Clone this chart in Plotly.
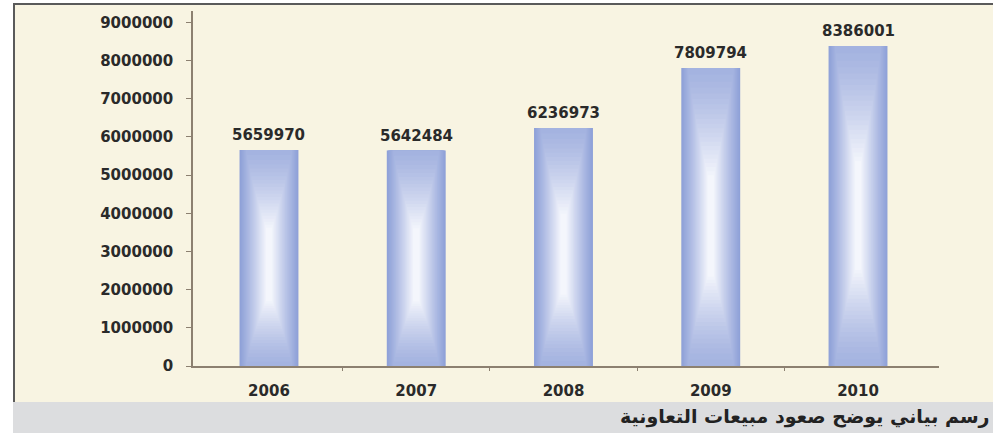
import plotly.graph_objects as go

years = ["2006", "2007", "2008", "2009", "2010"]
sales = [5659970, 5642484, 6236973, 7809794, 8386001]
y_ticks = [0, 1000000, 2000000, 3000000, 4000000, 5000000, 6000000, 7000000, 8000000, 9000000]
caption = "رسم بياني يوضح صعود مبيعات التعاونية"

W, H = 993, 433
ML, MR, MT, MB = 193, 54, 11, 67
plot_w = W - ML - MR
plot_h = H - MT - MB
axis_px = H - MB  # y pixel of zero line


def px_x(px):
    return (px - ML) / plot_w


def px_y(py):
    return (axis_px - py) / plot_h


def hex2rgb(h):
    h = h.lstrip("#")
    return [int(h[i:i + 2], 16) for i in (0, 2, 4)]


EDGE = hex2rgb("#8fa1d8")
CENTER = hex2rgb("#f4f6fc")

fig = go.Figure()

# gradient bars drawn as layered overlays (outer blue -> inner white glow)
N = 30
for k in range(N):
    t = k / (N - 1)
    w = 0.40 * (1 - 0.9 * t)
    m = t ** 1.1
    col = "rgb(%d,%d,%d)" % tuple(round(EDGE[i] + (CENTER[i] - EDGE[i]) * m) for i in range(3))
    s = max(0.0, (t - 0.25) / 0.75)
    half = 0.5 - 0.33 * s ** 0.8
    mid = 0.5 - 0.03 * s
    lo = max(0.0, mid - half)
    hi = min(1.0, mid + half)
    fig.add_trace(go.Bar(
        x=list(range(len(years))),
        y=[v * (hi - lo) for v in sales],
        base=[v * lo for v in sales],
        width=w,
        marker=dict(color=col, line=dict(width=0)),
        hoverinfo="skip",
        showlegend=False,
    ))

for i, v in enumerate(sales):
    fig.add_annotation(
        x=i, y=v, text=str(v), showarrow=False, yshift=15,
        font=dict(family="DejaVu Sans", size=15, color="#2a2a2a", weight="bold"),
    )

shapes = [
    dict(type="rect", xref="paper", yref="paper",
         x0=px_x(13), x1=px_x(993), y0=px_y(402), y1=px_y(3),
         fillcolor="#f8f4e2", line=dict(width=0), layer="below"),
    dict(type="rect", xref="paper", yref="paper",
         x0=px_x(13), x1=px_x(993), y0=px_y(433), y1=px_y(402),
         fillcolor="#dcdddf", line=dict(width=0), layer="below"),
    dict(type="line", xref="paper", yref="paper",
         x0=px_x(14), x1=px_x(14), y0=px_y(402), y1=px_y(3),
         line=dict(color="#5a5a5a", width=2)),
    dict(type="line", xref="paper", yref="paper",
         x0=px_x(13), x1=px_x(993), y0=px_y(4), y1=px_y(4),
         line=dict(color="#5a5a5a", width=2)),
]

fig.add_annotation(
    xref="paper", yref="paper", x=px_x(805), y=px_y(416),
    xanchor="center", yanchor="middle", showarrow=False, text=caption,
    font=dict(family="DejaVu Sans", size=19, color="#222222", weight="bold"),
)

tick_font = dict(family="DejaVu Sans", size=15, color="#2a2a2a", weight="bold")

fig.update_layout(
    width=W, height=H,
    margin=dict(l=ML, r=MR, t=MT, b=MB, pad=0),
    paper_bgcolor="white",
    plot_bgcolor="rgba(0,0,0,0)",
    barmode="overlay",
    shapes=shapes,
    showlegend=False,
    xaxis=dict(
        range=[-0.516, 4.55],
        tickmode="array", tickvals=list(range(len(years))), ticktext=years,
        showline=True, linecolor="#8c8070", linewidth=1.5,
        ticks="", showgrid=False, zeroline=False,
        ticklabelstandoff=10,
        tickfont=tick_font,
    ),
    yaxis=dict(
        range=[0, 9300000],
        tickmode="array", tickvals=y_ticks, ticktext=[str(t) for t in y_ticks],
        showline=True, linecolor="#8c8070", linewidth=1.5,
        ticks="outside", ticklen=5, tickcolor="#8c8070",
        showgrid=False, zeroline=False,
        ticklabelstandoff=10,
        tickfont=tick_font,
    ),
)

# small boundary ticks on the x axis, placed between categories
fig.update_xaxes(minor=dict(tickmode="array", tickvals=[0.5, 1.5, 2.5, 3.5],
                            ticks="outside", ticklen=3, tickcolor="#8c8070"))

fig.write_html("out.html", config={"displayModeBar": False},
               post_script="document.body.style.margin='0px';")
